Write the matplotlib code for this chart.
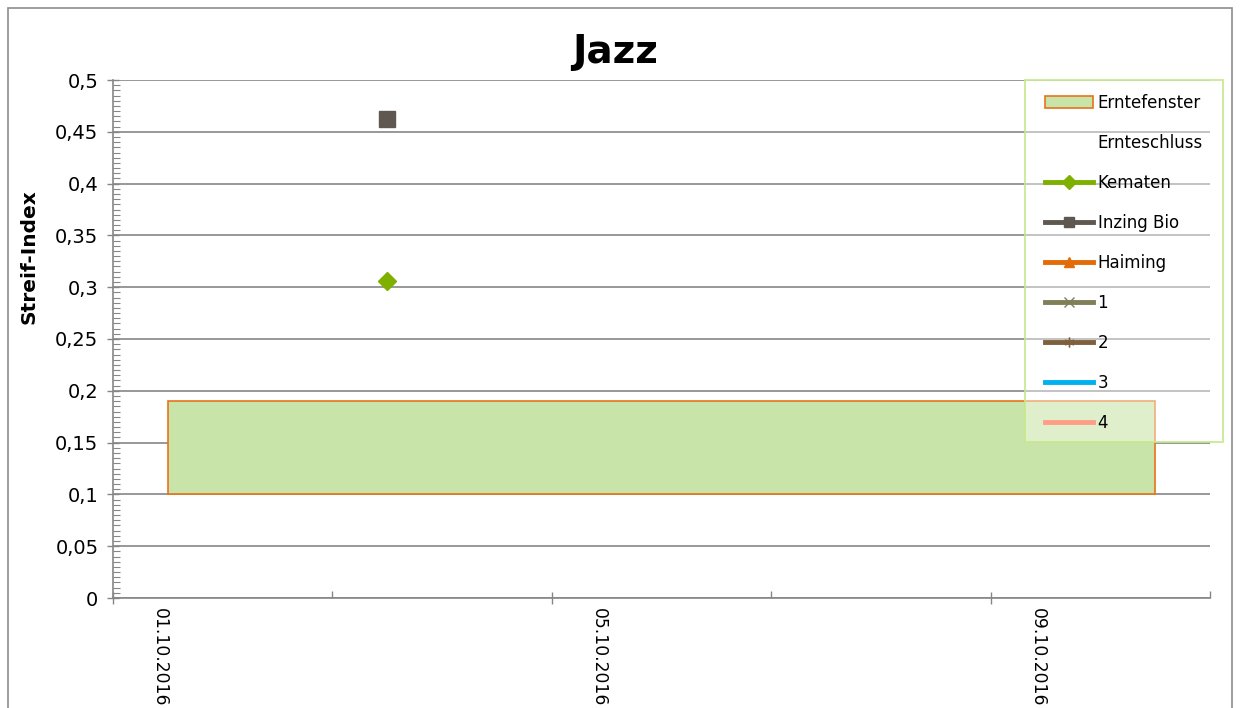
import matplotlib
matplotlib.use("Agg")
import matplotlib.pyplot as plt
from matplotlib.patches import Patch, Rectangle
from matplotlib.lines import Line2D
from matplotlib.ticker import MultipleLocator, FixedLocator, FixedFormatter
from matplotlib.transforms import ScaledTranslation

plt.rcParams["font.family"] = ["DejaVu Sans"]

# x values are days after 01.10.2016
x_ticks = [0, 4, 8]
x_tick_labels = ["01.10.2016", "05.10.2016", "09.10.2016"]
x_range = (0, 10)

window_start, window_end = 0.5, 9.5
window_low, window_high = 0.10, 0.19

series_names = ["Kematen", "Inzing Bio", "Haiming", "1", "2", "3", "4"]
series_x = [[2.5], [2.5], [], [], [], [], []]
series_y = [[0.306], [0.462], [], [], [], [], []]
series_colors = ["#7FB000", "#5F5850", "#E36C09", "#7F8058", "#7F5F3C", "#00B0F0", "#FF9E86"]
series_markers = ["D", "s", "^", "x", (6, 2, 0), None, None]
marker_sizes = [9, 12, 9, 7, 8, 0, 0]

fig = plt.figure(figsize=(12.4, 7.08), dpi=100)
ax = fig.add_axes([113 / 1240, 1 - 598 / 708, (1210 - 113) / 1240, (598 - 80) / 708])

# outer chart border
fig.patches.append(Rectangle((8 / 1240, -0.05), 1224 / 1240, 1.05 - 8 / 708,
                             transform=fig.transFigure, fill=False,
                             edgecolor="#8C8C8C", linewidth=1.2))
# legend frame, half-transparent white
fig.patches.append(Rectangle((1025 / 1240, 1 - 442 / 708), 198 / 1240, 362 / 708,
                             transform=fig.transFigure, facecolor=(1, 1, 1, 0.42),
                             edgecolor="#C6E88A", linewidth=1.2, zorder=4))

ax.add_patch(Rectangle((window_start, window_low), window_end - window_start,
                       window_high - window_low, facecolor="#C8E4A8",
                       edgecolor="#E8731A", linewidth=1.2, zorder=2))

for name, xs, ys, c, m, ms in zip(series_names, series_x, series_y,
                                   series_colors, series_markers, marker_sizes):
    if xs:
        ax.plot(xs, ys, linestyle="none", marker=m, markersize=ms, color=c, zorder=3)

ax.set_xlim(*x_range)
ax.set_ylim(0, 0.5)

yt = [i * 0.05 for i in range(11)]
ax.set_yticks(yt)
ax.set_yticklabels([("%g" % round(v, 2)).replace(".", ",") for v in yt])
ax.yaxis.set_minor_locator(MultipleLocator(0.005))
ax.set_ylim(0, 0.5)

ax.xaxis.set_major_locator(FixedLocator(x_ticks))
ax.xaxis.set_major_formatter(FixedFormatter(x_tick_labels))
ax.xaxis.set_minor_locator(MultipleLocator(2))

ax.tick_params(axis="both", which="major", direction="inout", length=9,
               color="#868686", width=1)
ax.tick_params(axis="y", which="major", labelsize=14, pad=6)
ax.tick_params(axis="x", which="major", labelsize=12.3, pad=3)
ax.tick_params(axis="y", which="minor", direction="in", length=5,
               color="#868686", width=0.8)
ax.tick_params(axis="x", which="minor", direction="in", length=5,
               color="#868686", width=1)
shift = ScaledTranslation(47 / 100, 0, fig.dpi_scale_trans)
for lab in ax.get_xticklabels():
    lab.set_rotation(-90)
    lab.set_ha("center")
    lab.set_va("top")
    lab.set_transform(lab.get_transform() + shift)

for s in ["top", "right"]:
    ax.spines[s].set_visible(False)
for s in ["left", "bottom"]:
    ax.spines[s].set_color("#868686")
    ax.spines[s].set_linewidth(1.2)

ax.grid(True, axis="y", which="major", color="#868686", linewidth=1.2)
ax.set_axisbelow(True)

ax.set_ylabel("Streif-Index", fontsize=14.5, fontweight="bold")
ax.yaxis.set_label_coords((39 - 113) / 1097, (598 - 257) / 518)
fig.text(615 / 1240, 1 - 52 / 708, "Jazz", fontsize=28, fontweight="bold",
         ha="center", va="center")

handles = [
    Patch(facecolor="#C8E4A8", edgecolor="#E8731A", linewidth=1.2, label="Erntefenster"),
    Line2D([], [], linestyle="none", label="Ernteschluss"),
]
for name, c, m, ms in zip(series_names, series_colors, series_markers, marker_sizes):
    handles.append(Line2D([], [], color=c, linewidth=3.5, marker=m,
                          markersize=min(ms, 7) if m else 0, label=name))

leg = fig.legend(handles=handles, loc="upper left",
                 bbox_to_anchor=(1045 / 1240, 1 - 94 / 708),
                 bbox_transform=fig.transFigure,
                 fontsize=12, frameon=False, borderaxespad=0,
                 handlelength=2.9, handletextpad=0.25, labelspacing=1.32,
                 borderpad=0)
leg.set_zorder(6)

fig.savefig("out.png", dpi=100)
